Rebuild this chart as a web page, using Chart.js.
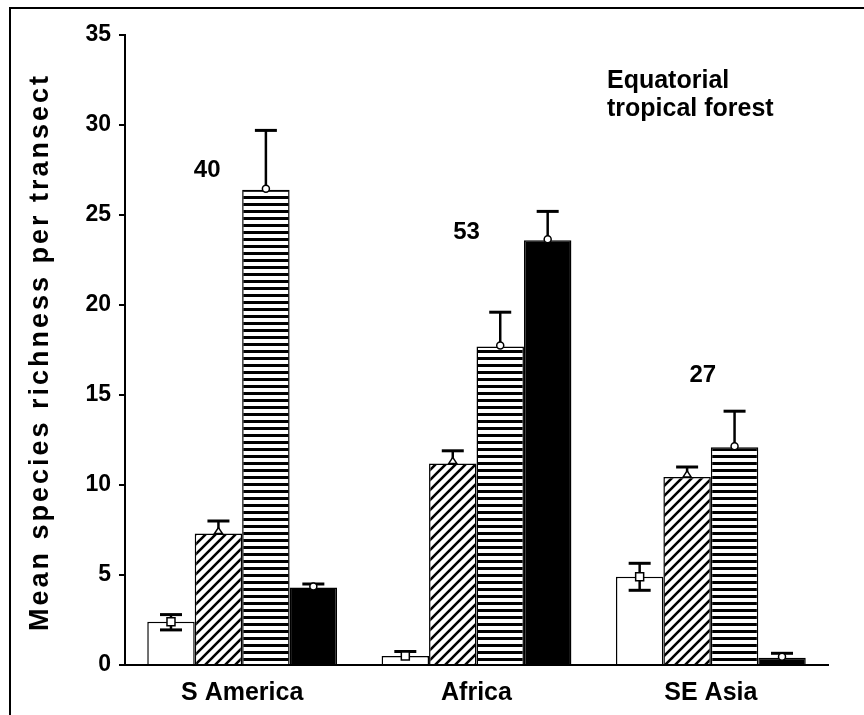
<!DOCTYPE html>
<html>
<head>
<meta charset="utf-8">
<script src="https://cdn.jsdelivr.net/npm/chart.js@4.4.1/dist/chart.umd.min.js"></script>
<style>
    html, body { margin: 0; padding: 0; background: #fff; }
</style>
</head>
<body>
<canvas id="grafico" width="864" height="715"></canvas>
<script>
// Dados
const categorias = ['S America', 'Africa', 'SE Asia'];
const barrasBrancas = [2.4, 0.5, 4.9];
const brancasErroSup = [2.8, 0.75, 5.65];
const brancasErroInf = [1.95, null, 4.15];
const barrasDiagonais = [7.3, 11.2, 10.45];
const diagonaisErroSup = [8.0, 11.9, 11.0];
const barrasListradas = [26.4, 17.7, 12.1];
const listradasErroSup = [29.7, 19.6, 14.1];
const barrasPretas = [4.3, 23.6, 0.4];
const pretasErroSup = [4.5, 25.2, 0.65];
const contagens = ['40', '53', '27'];
const contagensAltura = [27.5, 24.05, 16.1];
const ticksY = [0, 5, 10, 15, 20, 25, 30, 35];

const fonte = '"Liberation Sans", Arial, Helvetica, sans-serif';
Chart.defaults.font.family = fonte;
Chart.defaults.color = '#000';

// padrões de preenchimento
function padraoDiagonal() {
    const c = document.createElement('canvas');
    const s = 10;
    c.width = s; c.height = s;
    const g = c.getContext('2d');
    g.fillStyle = '#fff';
    g.fillRect(0, 0, s, s);
    g.strokeStyle = '#000';
    g.lineWidth = 2.6;
    g.beginPath();
    g.moveTo(0, s); g.lineTo(s, 0);
    g.moveTo(-s / 2, s / 2); g.lineTo(s / 2, -s / 2);
    g.moveTo(s / 2, s * 1.5); g.lineTo(s * 1.5, s / 2);
    g.stroke();
    return g.createPattern(c, 'repeat');
}

function padraoHorizontal() {
    const c = document.createElement('canvas');
    c.width = 8; c.height = 7;
    const g = c.getContext('2d');
    g.fillStyle = '#fff';
    g.fillRect(0, 0, 8, 7);
    g.fillStyle = '#000';
    g.fillRect(0, 0, 8, 3);
    return g.createPattern(c, 'repeat');
}

const extras = {
    id: 'extras',
    afterDatasetsDraw(chart) {
        const ctx = chart.ctx;
        const x = chart.scales.x, y = chart.scales.y;
        ctx.save();
        ctx.strokeStyle = '#000';
        ctx.fillStyle = '#000';
        chart.data.datasets.forEach((ds, i) => {
            const meta = chart.getDatasetMeta(i);
            meta.data.forEach((bar, j) => {
                const desenhaErro = (v) => {
                    if (v == null) return;
                    const py = y.getPixelForValue(v);
                    ctx.lineWidth = 2.5;
                    ctx.beginPath();
                    ctx.moveTo(bar.x, bar.y);
                    ctx.lineTo(bar.x, py);
                    ctx.stroke();
                    ctx.lineWidth = 3;
                    ctx.beginPath();
                    ctx.moveTo(bar.x - 11, py);
                    ctx.lineTo(bar.x + 11, py);
                    ctx.stroke();
                };
                desenhaErro(ds.erroSup[j]);
                if (ds.erroInf) desenhaErro(ds.erroInf[j]);
                // marcador no topo da barra
                ctx.lineWidth = 1.5;
                ctx.fillStyle = '#fff';
                ctx.beginPath();
                if (ds.marcador === 'quadrado') {
                    ctx.rect(bar.x - 4, bar.y - 4, 8, 8);
                } else if (ds.marcador === 'triangulo') {
                    ctx.moveTo(bar.x, bar.y - 6);
                    ctx.lineTo(bar.x + 4, bar.y);
                    ctx.lineTo(bar.x - 4, bar.y);
                    ctx.closePath();
                } else {
                    ctx.arc(bar.x, bar.y - 1, 3.5, 0, Math.PI * 2);
                }
                ctx.fill();
                ctx.stroke();
                ctx.fillStyle = '#000';
            });
        });

        // números de transectos
        const deslocX = [-35, -10, -8];
        ctx.font = 'bold 24px ' + fonte;
        ctx.textAlign = 'center';
        ctx.textBaseline = 'middle';
        contagens.forEach((t, i) => {
            ctx.fillText(t, x.getPixelForValue(i) + deslocX[i], y.getPixelForValue(contagensAltura[i]));
        });

        // legenda de texto
        ctx.textAlign = 'left';
        ctx.font = 'bold 25px ' + fonte;
        ctx.fillText('Equatorial', 607, 81);
        ctx.fillText('tropical forest', 607, 109);

        // título do eixo y
        ctx.save();
        ctx.translate(41, 352);
        ctx.rotate(-Math.PI / 2);
        ctx.textAlign = 'center';
        ctx.font = 'bold 27px ' + fonte;
        ctx.letterSpacing = '3px';
        ctx.fillText('Mean species richness per transect', 0, 0);
        ctx.restore();

        // moldura
        ctx.lineWidth = 2;
        ctx.beginPath();
        ctx.moveTo(10, 715);
        ctx.lineTo(10, 8);
        ctx.lineTo(864, 8);
        ctx.stroke();
        ctx.restore();
    }
};

const ctx = document.getElementById('grafico').getContext('2d');
new Chart(ctx, {
    type: 'bar',
    data: {
        labels: categorias,
        datasets: [
            { label: 'branca', data: barrasBrancas, backgroundColor: '#fff', erroSup: brancasErroSup, erroInf: brancasErroInf, marcador: 'quadrado' },
            { label: 'diagonal', data: barrasDiagonais, backgroundColor: padraoDiagonal(), erroSup: diagonaisErroSup, marcador: 'triangulo' },
            { label: 'listrada', data: barrasListradas, backgroundColor: padraoHorizontal(), erroSup: listradasErroSup, marcador: 'circulo' },
            { label: 'preta', data: barrasPretas, backgroundColor: '#000', erroSup: pretasErroSup, marcador: 'circulo' }
        ]
    },
    options: {
        responsive: false,
        animation: false,
        devicePixelRatio: 1,
        layout: { padding: { top: 35, right: 36, left: 0, bottom: 0 } },
        datasets: {
            bar: { categoryPercentage: 0.81, barPercentage: 1.0, borderColor: '#000', borderWidth: 1.5 }
        },
        plugins: { legend: { display: false }, tooltip: { enabled: false } },
        scales: {
            x: {
                grid: { display: false },
                border: { color: '#000', width: 2 },
                ticks: { font: { size: 25, weight: 'bold' }, padding: 5 },
                afterFit: s => { s.height = 50; }
            },
            y: {
                min: 0,
                max: 35,
                afterBuildTicks: s => { s.ticks = ticksY.map(v => ({ value: v })); },
                ticks: { font: { size: 23, weight: 'bold' }, padding: 8 },
                grid: { drawOnChartArea: false, tickLength: 6, color: '#000', lineWidth: 2 },
                border: { color: '#000', width: 2 },
                afterFit: s => { s.width = 125; }
            }
        }
    },
    plugins: [extras]
});
</script>
</body>
</html>
